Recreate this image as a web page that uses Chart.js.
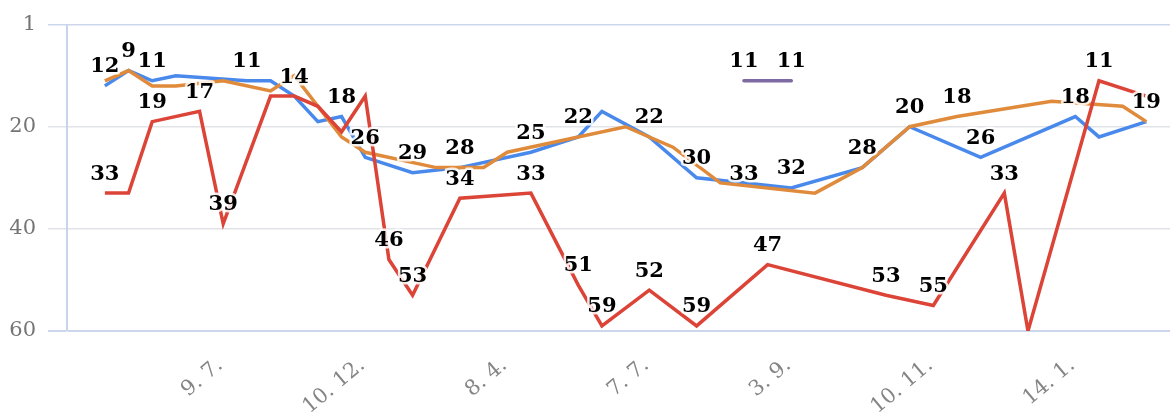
<!DOCTYPE html>
<html>
<head>
<meta charset="utf-8">
<script src="https://cdn.jsdelivr.net/npm/chart.js@4/dist/chart.umd.min.js"></script>
<style>
  html, body { margin: 0; padding: 0; background: #fff; }
</style>
</head>
<body>
<canvas id="miGrafico" width="1170" height="414"></canvas>
<script>
// eje x: posicion de cada fecha (indice) y su texto
const xTickIdx = [5, 11, 17, 23, 29, 35, 41];
const xTickText = ['9. 7.', '10. 12.', '8. 4.', '7. 7.', '3. 9.', '10. 11.', '14. 1.'];
const yTickVals = [0, 20, 40, 60];
const yTickText = ['1', '20', '40', '60'];

// series (indice 0..44), null = sin dato
const dataAzul = [12, 9, 11, 10, null, null, 11, 11, 14, 19, 18, 26, null, 29, null, 28, null, null, 25, null,
  22, 17, null, 22, null, 30, null, null, null, 32, null, null, 28, null, 20, null, null, 26, null, null,
  null, 18, 22, null, 19];
const dataNaranja = [11, 9, 12, 12, null, 11, null, 13, 10, null, 22, 25, null, null, 28, null, 28, 25, null, null,
  null, null, 20, null, 24, null, 31, null, null, null, 33, null, 28, null, 20, null, 18, null, null, null,
  15, null, null, 16, 19];
const dataRojo = [33, 33, 19, null, 17, 39, null, 14, 14, 16, 21, 14, 46, 53, null, 34, null, null, 33, null,
  51, 59, null, 52, null, 59, null, null, 47, null, null, null, null, 53, null, 55, null, null, 33, 60,
  null, null, 11, null, 14];
const dataMorado = [null, null, null, null, null, null, null, null, null, null, null, null, null, null, null, null, null, null, null, null,
  null, null, null, null, null, null, null, 11, null, 11, null, null, null, null, null, null, null, null, null, null,
  null, null, null, null, null];

// etiquetas de valores
const labelIdx = [0, 0, 1, 2, 2, 4, 5, 6, 8, 10, 11, 12, 13, 13, 15, 15, 18, 18, 20, 20,
  21, 23, 23, 25, 25, 27, 27, 28, 29, 29, 32, 33, 34, 35, 36, 37, 38, 41, 42, 44];
const labelVal = [12, 33, 9, 11, 19, 17, 39, 11, 14, 18, 26, 46, 29, 53, 28, 34, 25, 33, 22, 51,
  59, 22, 52, 30, 59, 11, 33, 47, 11, 32, 28, 53, 20, 55, 18, 26, 33, 18, 11, 19];

const fuente = '"DejaVu Serif", "Liberation Serif", serif';

function puntos(arr) {
  return arr.map((v, i) => ({ x: i, y: v }));
}

const etiquetas = {
  id: 'etiquetas',
  afterDatasetsDraw(chart) {
    const ctx = chart.ctx;
    const xs = chart.scales.x;
    const ys = chart.scales.y;
    ctx.save();
    ctx.font = 'bold 21px ' + fuente;
    ctx.textAlign = 'center';
    ctx.textBaseline = 'middle';
    ctx.lineJoin = 'round';
    for (let k = 0; k < labelIdx.length; k++) {
      const x = xs.getPixelForValue(labelIdx[k]);
      const y = ys.getPixelForValue(labelVal[k]) - 19;
      const t = String(labelVal[k]);
      ctx.strokeStyle = 'rgba(255,255,255,0.85)';
      ctx.lineWidth = 5;
      ctx.strokeText(t, x, y);
      ctx.fillStyle = '#000';
      ctx.fillText(t, x, y);
    }
    ctx.restore();
  }
};

function serie(datos, color, extra) {
  return Object.assign({
    data: puntos(datos),
    borderColor: color,
    backgroundColor: color,
    borderWidth: 3.5,
    pointRadius: 0,
    fill: false,
    spanGaps: true,
    tension: 0
  }, extra || {});
}

const grafico = new Chart(document.getElementById('miGrafico'), {
  type: 'line',
  data: {
    datasets: [
      serie(dataMorado, '#7e6aa3', { borderCapStyle: 'round' }),
      serie(dataRojo, '#db4437'),
      serie(dataNaranja, '#e08b3b'),
      serie(dataAzul, '#4a89ec')
    ]
  },
  options: {
    responsive: false,
    animation: false,
    layout: { padding: { top: 23, right: 0, left: 0, bottom: 0 } },
    plugins: { legend: { display: false }, tooltip: { enabled: false } },
    scales: {
      x: {
        type: 'linear',
        min: -1.6,
        max: 45,
        afterBuildTicks: s => { s.ticks = xTickIdx.map(v => ({ value: v })); },
        afterFit: s => { s.height = 83; s.paddingLeft = 0; s.paddingRight = 0; },
        grid: { display: false, drawTicks: false },
        border: { display: false },
        ticks: {
          autoSkip: false,
          minRotation: 40,
          maxRotation: 40,
          padding: 22,
          labelOffset: -3,
          color: '#858585',
          font: { family: fuente, size: 21 },
          callback: v => xTickText[xTickIdx.indexOf(v)]
        }
      },
      y: {
        reverse: true,
        min: 0,
        max: 60,
        afterBuildTicks: s => { s.ticks = yTickVals.map(v => ({ value: v })); },
        afterFit: s => { s.width = 67; },
        grid: {
          color: c => (c.tick && (c.tick.value === 60 || c.tick.value === 0)) ? '#cdd7ec' : '#e1e3e8',
          lineWidth: c => (c.tick && c.tick.value === 60) ? 2 : 1.5,
          tickLength: 19
        },
        border: { color: '#c8d4ec', width: 2 },
        ticks: {
          padding: 12,
          color: '#757575',
          font: { family: fuente, size: 21 },
          callback: v => yTickText[yTickVals.indexOf(v)]
        }
      }
    }
  },
  plugins: [etiquetas]
});
</script>
</body>
</html>
